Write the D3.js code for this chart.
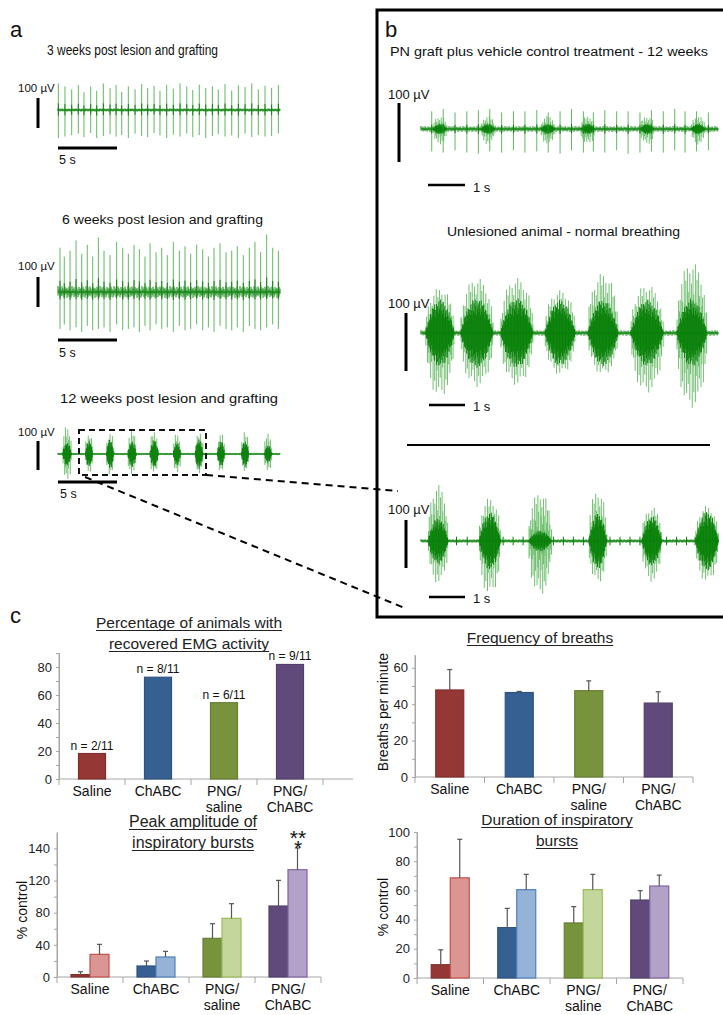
<!DOCTYPE html>
<html>
<head>
<meta charset="utf-8">
<script src="https://cdn.jsdelivr.net/npm/d3@7"></script>
<style>
  body { margin: 0; background: #fff; }
  svg { display: block; font-family: "Liberation Sans", Arial, sans-serif; }
</style>
</head>
<body>
<svg id="fig" width="723" height="1015"></svg>
<script>
// ---------------- EMG trace data ----------------
// panel a, 3 weeks: spike times (s) and peak up / down (µV)
const a1SpikeT = [0.03,0.59,1.16,1.72,2.20,2.77,3.28,3.84,4.41,4.92,5.40,5.96,6.53,7.09,7.60,8.14,8.64,9.21,9.77,10.34,10.91,11.42,11.97,12.52,13.08,13.58,14.15,14.72,15.28,15.85,16.42,16.97,17.54,18.10,18.67];
const a1SpikeUp = [90,80,70,85,60,80,65,90,75,85,62,80,70,88,75,82,65,85,72,90,80,68,86,75,80,70,88,66,84,78,90,70,82,75,85];
const a1SpikeDown = [95,90,85,80,92,78,95,88,82,90,85,95,80,88,92,78,86,95,84,90,80,92,85,95,88,82,90,86,95,80,92,85,90,88,80];

// panel a, 6 weeks
const a2SpikeT = [0.17,0.53,1.02,1.53,2.01,2.48,2.94,3.42,3.90,4.41,4.97,5.48,5.96,6.44,6.89,7.37,7.80,8.31,8.79,9.26,9.77,10.28,10.76,11.24,11.75,12.26,12.74,13.22,13.73,14.24,14.72,15.19,15.70,16.21,16.69,17.17,17.68,18.19,18.67];
const a2SpikeUp = [150,120,140,175,130,160,120,185,140,125,170,150,130,160,145,120,165,135,150,125,170,140,155,130,160,145,120,150,165,135,140,155,125,150,170,135,195,150,140];
const a2SpikeDown = [125,110,130,120,135,115,130,125,120,135,110,130,125,120,135,115,130,110,125,120,135,115,130,125,110,130,120,135,115,125,130,120,135,115,125,130,120,110,125];

// panel a, 12 weeks: bursts (centre s, half width s, core µV, up µV, down µV)
const a3BurstT    = [0.76,2.63,4.41,6.27,8.14,10.08,11.95,13.81,15.85,17.80];
const a3BurstHW   = [0.40,0.34,0.34,0.38,0.38,0.34,0.36,0.34,0.34,0.34];
const a3BurstCore = [40,45,50,45,48,40,52,45,45,30];
const a3BurstUp   = [100,75,75,80,78,75,80,72,75,72];
const a3BurstDown = [95,65,70,72,70,70,65,60,62,65];

// panel b, vehicle control
const b1SpikeT = [0.29,0.60,0.92,1.24,1.55,1.86,2.18,2.50,2.81,3.13,3.44,3.76,4.07,4.39,4.66,4.97,5.29,5.60,5.92,6.23,6.55,6.86,7.14,7.45,7.77];
const b1SpikeUp = [30,34,28,30,32,34,28,30,30,32,28,30,34,30,28,32,30,30,28,32,30,34,30,30,28];
const b1SpikeDown = [38,40,36,40,42,38,40,36,40,38,40,42,36,40,38,40,36,42,40,38,40,36,40,38,36];
const b1BurstT = [0.51,1.81,3.43,4.51,6.11,7.49];

// panel b, unlesioned
const b2BurstT    = [0.51,1.51,2.59,3.76,4.92,6.11,7.32];
const b2BurstHW   = [0.40,0.45,0.45,0.42,0.42,0.45,0.42];
const b2BurstCore = [58,60,60,57,57,57,58];
const b2BurstUp   = [78,95,95,74,103,83,122];
const b2BurstDown = [110,93,90,72,72,103,129];

// panel b, 12 weeks expanded
const b3BurstT    = [0.46,1.86,3.22,4.78,6.24,7.73];
const b3BurstHW   = [0.28,0.30,0.32,0.25,0.28,0.32];
const b3BurstCore = [48,60,22,58,52,62];
const b3BurstUp   = [117,90,102,106,71,73];
const b3BurstDown = [88,112,112,88,85,85];
const b3BlipT = [0.96,1.25,2.22,2.49,2.76,3.58,3.85,4.12,4.39,5.11,5.38,5.65,5.92,6.64,6.91,7.18,7.41,7.99];

// ---------------- bar chart data ----------------
const groups = ["Saline", "ChABC", "PNG/saline", "PNG/ChABC"];
const groupLines = [["Saline"], ["ChABC"], ["PNG/", "saline"], ["PNG/", "ChABC"]];
const darkColors  = ["#953735", "#376092", "#77933c", "#604a7b"];
const lightColors = ["#db9694", "#95b3d7", "#c3d69b", "#b3a2c7"];
const lightStroke = ["#c0504d", "#4f81bd", "#9bbb59", "#8064a2"];

const recovered = [18.2, 72.7, 54.5, 81.8];
const nLabels = ["n = 2/11", "n = 8/11", "n = 6/11", "n = 9/11"];

const breaths = [47.8, 46.4, 47.4, 40.6];
const breathsErr = [11.2, 0.6, 5.4, 6.2];

const peakDark = [3, 13.7, 48.1, 88.3];
const peakDarkErr = [3.5, 6.2, 18.2, 31.9];
const peakLight = [28.2, 24.9, 73, 133.5];
const peakLightErr = [12.4, 7, 18.2, 27];
const peakTicks = [0, 40, 80, 120, 160];
const peakTickLabels = ["0", "40", "80", "120", "140"];

const durDark = [9.1, 34.5, 37.7, 53.4];
const durDarkErr = [10.2, 13.2, 11.2, 6.4];
const durLight = [68.6, 60.5, 60.5, 63];
const durLightErr = [26.4, 10.5, 10.5, 7.5];

// ---------------- helpers ----------------
const svg = d3.select("#fig");
const GREEN_DARK = "#0a800a", GREEN_LIGHT = "#62b862";
const HATCH = [1, .45, .8, .3, .95, .6, .2, .85, .5, .7, .35, .9, .55, .25]; // texture for noise

function txt(x, y, s, size, o = {}) {
  const t = svg.append("text").attr("x", x).attr("y", y).text(s)
    .attr("font-size", size).attr("fill", o.fill || "#111")
    .attr("text-anchor", o.anchor || "start");
  if (o.len) t.attr("textLength", o.len).attr("lengthAdjust", "spacingAndGlyphs");
  if (o.family) t.attr("font-family", o.family);
  return t;
}
function line(x1, y1, x2, y2, w, o = {}) {
  return svg.append("line").attr("x1", x1).attr("y1", y1).attr("x2", x2).attr("y2", y2)
    .attr("stroke", o.stroke || "#000").attr("stroke-width", w)
    .attr("stroke-dasharray", o.dash || null);
}

function drawTrace(tr) {
  const g = svg.append("g");
  const x = d3.scaleLinear().domain([0, tr.dur]).range([tr.x0, tr.x1]);
  const y = d3.scaleLinear().domain([0, 100]).range([tr.base, tr.base - tr.px100]);
  const segs = [];
  // baseline noise
  let i = 0;
  for (let px = tr.x0; px <= tr.x1; px += 1, i++) {
    segs.push({x: px, a: tr.noise * HATCH[i % 14], b: -tr.noise * HATCH[(i + 5) % 14], c: GREEN_DARK, o: 1});
  }
  (tr.blips || []).forEach(t => {
    segs.push({x: x(t), a: tr.blip, b: -tr.blip, c: GREEN_DARK, o: 1});
  });
  // bursts: light spiky fringe + dark core
  (tr.bursts || []).forEach((b, k) => {
    const cx = x(b.t), hw = x(b.hw) - x(0);
    const light = [], dark = [];
    let j = k * 3;
    for (let px = cx - hw; px <= cx + hw; px += 0.8, j++) {
      const u = (px - cx) / hw;
      const env = Math.sqrt(Math.max(0, 1 - u * u));
      light.push({x: px, a: b.up * env * HATCH[j % 14], b: -b.down * env * HATCH[(j + 4) % 14], c: GREEN_LIGHT, o: 0.9});
    }
    j = k * 5;
    for (let px = cx - hw; px <= cx + hw; px += 0.6, j++) {
      const u = (px - cx) / hw;
      const envC = Math.max(0, 1 - u * u);
      dark.push({x: px, a: b.core * envC * (0.4 + 0.6 * HATCH[(j + 2) % 14]),
        b: -b.core * envC * (0.4 + 0.6 * HATCH[(j + 9) % 14]), c: GREEN_DARK, o: 1});
    }
    segs.push(...light, ...dark);
  });
  // spikes
  (tr.spikes || []).forEach(s => {
    segs.push({x: x(s.t), a: s.up, b: -s.down, c: GREEN_LIGHT, o: 1});
    segs.push({x: x(s.t), a: s.up * 0.25, b: -s.down * 0.2, c: GREEN_DARK, o: 1});
  });
  g.selectAll("line").data(segs).join("line")
    .attr("x1", d => d.x).attr("x2", d => d.x)
    .attr("y1", d => y(d.a)).attr("y2", d => y(d.b))
    .attr("stroke", d => d.c).attr("stroke-opacity", d => d.o).attr("stroke-width", 1);
  line(tr.x0, tr.base, tr.x1, tr.base, 1.2, {stroke: GREEN_DARK});
}
const zipSpikes = (T, U, D) => T.map((t, i) => ({t, up: U[i], down: D[i]}));
const zipBursts = (T, H, C, U, D) => T.map((t, i) => ({t, hw: H[i], core: C[i], up: U[i], down: D[i]}));

// ---------------- panel a ----------------
txt(10, 37, "a", 22);
txt(47, 55, "3 weeks post lesion and grafting", 14,
  {len: 171, family: "'Liberation Sans Narrow', 'Liberation Sans', Arial, sans-serif"});
drawTrace({x0: 58, x1: 280, dur: 18.81, base: 110, px100: 29.5, noise: 6,
  spikes: zipSpikes(a1SpikeT, a1SpikeUp, a1SpikeDown)});
txt(18, 92, "100 µV", 11.5);
line(38, 98, 38, 128, 3);
line(58, 148, 117, 148, 3);
txt(59, 164, "5 s", 12.5);

txt(62, 224, "6 weeks post lesion and grafting", 12.5, {len: 201});
drawTrace({x0: 58, x1: 280, dur: 18.81, base: 292, px100: 29.5, noise: 20,
  spikes: zipSpikes(a2SpikeT, a2SpikeUp, a2SpikeDown)});
txt(18, 270, "100 µV", 11.5);
line(38, 277, 38, 307, 3);
line(58, 340, 117, 340, 3);
txt(59, 357, "5 s", 12.5);

txt(60, 403, "12 weeks post lesion and grafting", 12.5, {len: 218});
drawTrace({x0: 58, x1: 280, dur: 18.81, base: 454, px100: 29.5, noise: 4,
  bursts: zipBursts(a3BurstT, a3BurstHW, a3BurstCore, a3BurstUp, a3BurstDown)});
txt(18, 436, "100 µV", 11.5);
line(38, 441, 38, 470, 3);
line(58, 482, 117, 482, 3);
txt(60, 498, "5 s", 12.5);

// zoom box and connectors
svg.append("rect").attr("x", 79).attr("y", 430).attr("width", 127).attr("height", 45)
  .attr("fill", "none").attr("stroke", "#111").attr("stroke-width", 2).attr("stroke-dasharray", "6,4");
line(206, 475, 398, 491, 2, {dash: "7,5"});
line(85, 477, 407, 609, 2, {dash: "7,5"});

// ---------------- panel b ----------------
svg.append("rect").attr("x", 377).attr("y", 10).attr("width", 360).attr("height", 607)
  .attr("fill", "none").attr("stroke", "#000").attr("stroke-width", 3);
txt(385, 37, "b", 22);
txt(390, 56, "PN graft plus vehicle control treatment - 12 weeks", 12, {len: 318});
drawTrace({x0: 421, x1: 718, dur: 8.03, base: 129, px100: 59, noise: 5,
  spikes: zipSpikes(b1SpikeT, b1SpikeUp, b1SpikeDown),
  bursts: b1BurstT.map(t => ({t, hw: 0.2, core: 9, up: 22, down: 26}))});
txt(388, 99, "100 µV", 13);
line(399, 103, 399, 162, 3);
line(428, 185, 465, 185, 2.5);
txt(473, 192, "1 s", 13);

txt(447, 236, "Unlesioned animal - normal breathing", 12, {len: 233});
drawTrace({x0: 421, x1: 718, dur: 8.03, base: 333, px100: 58, noise: 5,
  bursts: zipBursts(b2BurstT, b2BurstHW, b2BurstCore, b2BurstUp, b2BurstDown)});
txt(388, 308, "100 µV", 13);
line(406, 313, 406, 371, 3);
line(429, 405, 465, 405, 2.5);
txt(473, 411, "1 s", 13);

line(407, 445, 710, 445, 2);

drawTrace({x0: 421, x1: 718, dur: 8.03, base: 541, px100: 48, noise: 4,
  blips: b3BlipT, blip: 9,
  bursts: zipBursts(b3BurstT, b3BurstHW, b3BurstCore, b3BurstUp, b3BurstDown)});
txt(388, 514, "100 µV", 13);
line(406, 520, 406, 568, 3);
line(429, 597, 465, 597, 2.5);
txt(473, 603, "1 s", 13);

// ---------------- panel c: bar charts ----------------
txt(10, 623, "c", 22);

function title(cx, y0, lines, size) {
  lines.forEach((s, i) => {
    const t = txt(cx, y0 + i * 21, s, size, {anchor: "middle", fill: "#222"});
    const w = t.node().getComputedTextLength();
    line(cx - w / 2, y0 + i * 21 + 2.5, cx + w / 2, y0 + i * 21 + 2.5, 1.2, {stroke: "#222"});
  });
}

function barChart(o) {
  const g = svg.append("g");
  const x = d3.scaleBand().domain(groups).range([o.x0, o.x1]);
  const y = d3.scaleLinear().domain(o.yDomain).range([o.y0, o.yTop]);
  const axisCol = "#a6a6a6";

  // minor ticks
  g.append("g").attr("transform", `translate(${o.x0},0)`)
    .call(d3.axisLeft(y).tickValues(o.minor).tickSize(3).tickFormat(""))
    .call(a => a.select(".domain").remove())
    .selectAll("line").attr("stroke", axisCol);
  // major ticks + labels
  const ay = g.append("g").attr("transform", `translate(${o.x0},0)`)
    .call(d3.axisLeft(y).tickValues(o.ticks).tickSize(3).tickSizeOuter(0).tickPadding(4)
      .tickFormat((d, i) => o.tickLabels ? o.tickLabels[i] : d));
  ay.attr("font-family", null).attr("font-size", 13);
  ay.select(".domain").attr("stroke", axisCol);
  ay.selectAll("line").attr("stroke", axisCol);
  ay.selectAll("text").attr("fill", "#222");
  g.append("line").attr("x1", o.x0).attr("x2", o.x0).attr("y1", o.y0).attr("y2", o.yTop)
    .attr("stroke", axisCol);

  // x axis with category dividers
  g.append("line").attr("x1", o.x0).attr("x2", o.x1 + (o.xExtra || 0)).attr("y1", o.y0).attr("y2", o.y0)
    .attr("stroke", axisCol);
  const edges = groups.map(d => x(d)).concat([o.x1]);
  g.selectAll(".div").data(edges).join("line")
    .attr("x1", d => d).attr("x2", d => d).attr("y1", o.y0).attr("y2", o.y0 + 6)
    .attr("stroke", axisCol);
  groups.forEach((d, i) => {
    const t = g.append("text").attr("x", x(d) + x.bandwidth() / 2).attr("y", o.y0 + 17)
      .attr("text-anchor", "middle").attr("font-size", 14).attr("fill", "#111");
    groupLines[i].forEach((s, k) => t.append("tspan")
      .attr("x", x(d) + x.bandwidth() / 2).attr("dy", k ? 16 : 0).text(s));
  });

  const cx = d => x(d) + x.bandwidth() / 2;
  const series = o.series;
  const bw = o.barW;
  series.forEach((s, si) => {
    const off = series.length === 1 ? -bw / 2 : (si === 0 ? -bw : 0);
    g.selectAll(null).data(groups).join("rect")
      .attr("x", d => cx(d) + off)
      .attr("y", (d, i) => y(s.values[i]))
      .attr("width", bw)
      .attr("height", (d, i) => o.y0 - y(s.values[i]))
      .attr("fill", (d, i) => s.fill[i])
      .attr("stroke", (d, i) => s.stroke[i]).attr("stroke-width", 1.2);
    if (s.err) {
      groups.forEach((d, i) => {
        const ex = cx(d) + off + bw / 2;
        const top = y(s.values[i] + s.err[i]);
        g.append("line").attr("x1", ex).attr("x2", ex).attr("y1", y(s.values[i])).attr("y2", top)
          .attr("stroke", "#555").attr("stroke-width", 1.2);
        g.append("line").attr("x1", ex - 2.5).attr("x2", ex + 2.5).attr("y1", top).attr("y2", top)
          .attr("stroke", "#555").attr("stroke-width", 1.2);
      });
    }
  });
  return {g, x, y, cx};
}

// Percentage of animals
title(189, 628, ["Percentage of animals with", "recovered EMG activity"], 15.5);
const c1 = barChart({x0: 59, x1: 323, y0: 779, yTop: 653, yDomain: [0, 90], xExtra: 30,
  ticks: [0, 20, 40, 60, 80], minor: [10, 30, 50, 70, 90], barW: 27,
  series: [{values: recovered, fill: darkColors, stroke: darkColors.map(c => d3.color(c).darker(0.4))}]});
groups.forEach((d, i) => {
  c1.g.append("text").attr("x", c1.cx(d)).attr("y", c1.y(recovered[i]) - 4)
    .attr("text-anchor", "middle").attr("font-size", 12).attr("fill", "#111").text(nLabels[i]);
});

// Frequency of breaths
title(540, 643, ["Frequency of breaths"], 15.5);
barChart({x0: 415, x1: 693, y0: 777, yTop: 655, yDomain: [0, 67],
  ticks: [0, 20, 40, 60], minor: [10, 30, 50], barW: 28,
  series: [{values: breaths, err: breathsErr, fill: darkColors, stroke: darkColors.map(c => d3.color(c).darker(0.4))}]});
svg.append("text").attr("transform", "translate(388,712) rotate(-90)").attr("text-anchor", "middle")
  .attr("font-size", 14).attr("fill", "#111").text("Breaths per minute");

// Peak amplitude
title(193, 827, ["Peak amplitude of", "inspiratory bursts"], 16);
barChart({x0: 57, x1: 321, y0: 977, yTop: 832.3, yDomain: [0, 180],
  ticks: peakTicks, tickLabels: peakTickLabels, minor: [20, 60, 100, 140], barW: 19,
  series: [
    {values: peakDark, err: peakDarkErr, fill: darkColors, stroke: darkColors.map(c => d3.color(c).darker(0.4))},
    {values: peakLight, err: peakLightErr, fill: lightColors, stroke: lightStroke}]});
svg.append("text").attr("transform", "translate(27,910) rotate(-90)").attr("text-anchor", "middle")
  .attr("font-size", 14).attr("fill", "#111").text("% control");
// significance stars: one text, two stacked lines
const stars = svg.append("text").attr("text-anchor", "middle").attr("font-size", 21).attr("fill", "#111");
stars.append("tspan").attr("x", 298).attr("y", 845).text("**");
stars.append("tspan").attr("x", 298).attr("y", 855).text("*");

// Duration
title(557, 825, ["Duration of inspiratory", "bursts"], 15.5);
barChart({x0: 417, x1: 683, y0: 978, yTop: 832, yDomain: [0, 100],
  ticks: [0, 20, 40, 60, 80, 100], minor: [10, 30, 50, 70, 90], barW: 19,
  series: [
    {values: durDark, err: durDarkErr, fill: darkColors, stroke: darkColors.map(c => d3.color(c).darker(0.4))},
    {values: durLight, err: durLightErr, fill: lightColors, stroke: lightStroke}]});
svg.append("text").attr("transform", "translate(388,907) rotate(-90)").attr("text-anchor", "middle")
  .attr("font-size", 14).attr("fill", "#111").text("% control");
</script>
</body>
</html>
